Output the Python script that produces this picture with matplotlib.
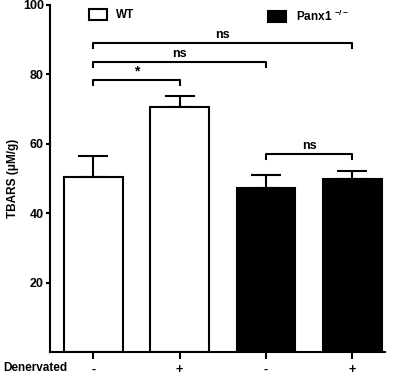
import numpy as np
import matplotlib.pyplot as plt
from matplotlib.patches import Patch

plt.rcParams['font.family'] = ['Liberation Sans', 'DejaVu Sans']
plt.rcParams['font.weight'] = 'bold'
plt.rcParams['axes.labelweight'] = 'bold'
plt.rcParams['mathtext.default'] = 'regular'

denervated = ['-', '+', '-', '+']
groups = ['WT', 'WT', 'Panx1', 'Panx1']
means = [50.5, 70.6, 47.2, 49.8]
sems = [6.0, 3.2, 3.8, 2.4]
colors = ['white', 'white', 'black', 'black']

# (left bar, right bar, height, label)
brackets = [(0, 3, 89, 'ns'), (0, 2, 83.5, 'ns'), (0, 1, 78.5, '*'), (2, 3, 57, 'ns')]

fig = plt.figure(figsize=(3.97, 3.77), dpi=100)
ax = fig.add_axes([0.126, 0.066, 0.844, 0.921])

x = np.arange(len(means))
ax.bar(x, means, width=0.68, color=colors, edgecolor='black', linewidth=1.5, zorder=2)
ax.errorbar(x, means, yerr=[np.zeros(4), sems], fmt='none', ecolor='black',
            elinewidth=1.5, capsize=11, capthick=1.5, zorder=1)

for a, b, h, lab in brackets:
    ax.plot([a, a, b, b], [h - 1.5, h, h, h - 1.5], color='black', lw=1.5, clip_on=False)
    if lab == '*':
        ax.text((a + b) / 2, h + 0.3, lab, ha='center', va='bottom', fontsize=10)
    else:
        ax.text((a + b) / 2, h + 0.6, lab, ha='center', va='bottom', fontsize=9)

ax.set_xlim(-0.5, 3.38)
ax.set_ylim(0, 100)
ax.set_yticks([20, 40, 60, 80, 100])
ax.set_xticks(x)
ax.set_xticklabels(denervated, fontsize=9)
ax.tick_params(axis='y', labelsize=9, width=1.5, length=3, pad=1.5)
ax.tick_params(axis='x', width=1.5, length=5, pad=3.5)
for s in ['top', 'right']:
    ax.spines[s].set_visible(False)
for s in ['left', 'bottom']:
    ax.spines[s].set_linewidth(1.5)
ax.set_ylabel('TBARS (\u03bcM/g)', fontsize=8.5, labelpad=3)
fig.text(0.008, 0.024, 'Denervated', fontsize=8.5, ha='left', va='center')

h1 = Patch(facecolor='white', edgecolor='black', linewidth=1.5)
h2 = Patch(facecolor='black', edgecolor='black', linewidth=1.5)
leg1 = ax.legend([h1], ['WT'], loc='upper left', bbox_to_anchor=(0.085, 1.02),
                 frameon=False, fontsize=8.5, handlelength=1.5, handleheight=1.1)
ax.add_artist(leg1)
ax.legend([h2], ['Panx1 $^{-/-}$'], loc='upper left', bbox_to_anchor=(0.62, 1.02),
          frameon=False, fontsize=8.5, handlelength=1.5, handleheight=1.1)

fig.savefig('out.png', dpi=100)
